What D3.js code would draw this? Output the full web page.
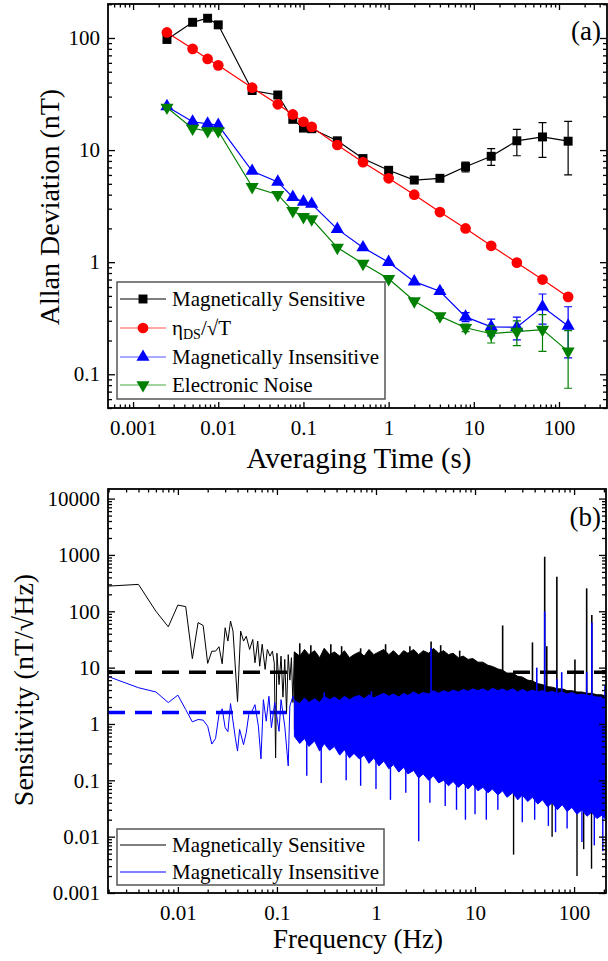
<!DOCTYPE html>
<html>
<head>
<meta charset="utf-8">
<script src="https://cdn.jsdelivr.net/npm/d3@7"></script>
<style>
	body { margin: 0; background: #fff; }
	svg { display: block; }
	svg text { font-family: "Liberation Serif", "DejaVu Serif", "Times New Roman", serif; }
</style>
</head>
<body>
<svg id="chart"></svg>
<script>
let width = 608;
let height = 961;

// ---- panel (a): Allan deviation ----
const avgTime = [0.0025, 0.005, 0.0075, 0.01, 0.025, 0.05, 0.075, 0.1, 0.125, 0.25, 0.5, 1, 2, 4, 8, 16, 32, 64, 128];
const magSens = [97, 138, 150, 131, 34, 31, 18.8, 15.7, 15.5, 12.1, 8.4, 6.6, 5.4, 5.6, 7.1, 8.8, 12.1, 13.1, 12.0];
const magSensErr = [0, 0, 0, 0, 0, 0, 0, 0, 0, 0.5, 0.4, 0.3, 0.2, 0.3, 0.7, 1.5, 3.2, 4.5, 6.0];
const etaDS = [112, 80, 65, 57, 36, 25.6, 20.8, 17.9, 16.1, 11.1, 7.8, 5.6, 4.0, 2.8, 2.0, 1.4, 0.99, 0.70, 0.49];
const magIns = [24.5, 17.9, 17.1, 16.7, 6.5, 5.2, 3.8, 3.45, 3.3, 1.97, 1.35, 1.0, 0.67, 0.55, 0.325, 0.265, 0.263, 0.40, 0.27];
const magInsErr = [0, 0, 0, 0, 0, 0, 0, 0, 0, 0, 0, 0, 0, 0.02, 0.03, 0.045, 0.06, 0.12, 0.13];
const elecNoise = [24, 15.6, 14.8, 14.8, 4.7, 4.0, 2.87, 2.54, 2.42, 1.35, 0.97, 0.71, 0.45, 0.33, 0.26, 0.23, 0.24, 0.25, 0.16];
const elecNoiseErr = [0, 0, 0, 0, 0, 0, 0, 0, 0, 0, 0, 0, 0, 0.015, 0.02, 0.04, 0.06, 0.09, 0.085];

const xTicksA = [0.001, 0.01, 0.1, 1, 10, 100];
const xLabelsA = ["0.001", "0.01", "0.1", "1", "10", "100"];
const yTicksA = [0.1, 1, 10, 100];
const yLabelsA = ["0.1", "1", "10", "100"];

// ---- panel (b): sensitivity spectrum ----
// resolved low-frequency part
const sensFreq = [0.002, 0.004, 0.006, 0.008, 0.010, 0.012, 0.014, 0.016, 0.018, 0.020, 0.022, 0.024, 0.026, 0.028, 0.030, 0.032, 0.034, 0.036, 0.040, 0.043, 0.046, 0.049, 0.053, 0.057, 0.060, 0.064, 0.067, 0.071, 0.076, 0.080, 0.085, 0.090, 0.094, 0.097, 0.100, 0.105, 0.110, 0.115, 0.120, 0.125, 0.130, 0.135, 0.140, 0.145, 0.150];
const sensVal = [280, 300, 100, 53, 129, 121, 14.4, 63, 56, 11.9, 19.6, 19.6, 23.5, 11.7, 51, 29.6, 67, 44.5, 2.5, 44.5, 29.6, 36, 21, 31.6, 12.2, 29.6, 10.6, 26, 9.3, 21, 16, 19.6, 12, 0.25, 18, 5, 16, 3, 14, 1.6, 17, 6, 15, 2.4, 19];
const insFreq = [0.002, 0.004, 0.006, 0.008, 0.010, 0.012, 0.014, 0.016, 0.018, 0.020, 0.022, 0.024, 0.026, 0.028, 0.030, 0.032, 0.034, 0.036, 0.038, 0.040, 0.042, 0.046, 0.049, 0.052, 0.056, 0.060, 0.065, 0.069, 0.073, 0.078, 0.083, 0.088, 0.095, 0.105, 0.110, 0.120, 0.130, 0.135, 0.145, 0.150];
const insVal = [6.9, 4.4, 3.7, 2.4, 3.25, 1.8, 1.09, 1.2, 1.17, 0.91, 0.44, 0.55, 1.47, 1.86, 0.86, 0.73, 2.3, 1.12, 0.57, 0.33, 0.8, 0.43, 0.7, 1.47, 1.69, 2.2, 0.91, 0.24, 2.7, 1.12, 3.1, 0.86, 2.4, 0.74, 2.7, 0.91, 0.18, 2.07, 3.1, 2.6];

// dense part, read as ragged upper / lower edges
const bandFreq = [0.15, 0.17, 0.19, 0.21, 0.24, 0.27, 0.3, 0.34, 0.38, 0.43, 0.48, 0.54, 0.6, 0.68, 0.76, 0.85, 0.95, 1.07, 1.2, 1.35, 1.5, 1.7, 1.9, 2.1, 2.4, 2.7, 3, 3.4, 3.8, 4.3, 4.8, 5.4, 6, 6.8, 7.6, 8.5, 9.5, 10.7, 12, 13.5, 15, 17, 19, 21, 24, 27, 30, 34, 38, 43, 48, 54, 60, 68, 76, 85, 95, 107, 120, 135, 150, 170, 190, 210];
const sensUpper = [19, 16, 21, 17, 20, 15, 22, 17, 19, 16, 20, 15, 17, 19, 16, 21, 17, 19, 21, 17, 20, 16, 20, 18, 21, 17, 20, 18, 22, 18, 20, 17, 18, 15, 16, 14, 14.5, 12.5, 12.5, 11, 10.5, 9.5, 9, 8, 8, 7, 6.8, 6, 5.8, 5.2, 5, 4.6, 4.5, 4.2, 4.2, 3.9, 3.9, 3.7, 3.7, 3.5, 3.5, 3.3, 3.3, 3.1];
const insUpper = [2.6, 2.3, 2.9, 2.4, 2.8, 2.4, 3.1, 2.7, 3.0, 2.6, 3.1, 2.7, 3.0, 3.2, 2.8, 3.3, 2.9, 3.2, 3.5, 3.1, 3.4, 3.0, 3.5, 3.2, 3.7, 3.3, 3.6, 3.4, 3.9, 3.5, 3.9, 3.6, 4.0, 3.7, 4.1, 3.8, 4.2, 3.9, 4.2, 3.8, 4.3, 3.9, 4.2, 3.8, 4.2, 3.7, 4.1, 3.7, 4.0, 3.7, 3.9, 3.6, 3.8, 3.5, 3.7, 3.4, 3.6, 3.3, 3.4, 3.2, 3.2, 3.0, 3.0, 2.8];
const insLower = [0.6, 0.45, 0.55, 0.4, 0.5, 0.33, 0.45, 0.34, 0.4, 0.28, 0.35, 0.25, 0.3, 0.24, 0.28, 0.2, 0.25, 0.18, 0.22, 0.16, 0.19, 0.14, 0.17, 0.13, 0.15, 0.11, 0.13, 0.1, 0.12, 0.09, 0.1, 0.08, 0.095, 0.075, 0.09, 0.07, 0.085, 0.065, 0.075, 0.06, 0.07, 0.055, 0.065, 0.05, 0.06, 0.045, 0.055, 0.042, 0.05, 0.038, 0.045, 0.034, 0.04, 0.03, 0.037, 0.028, 0.033, 0.025, 0.03, 0.023, 0.027, 0.021, 0.024, 0.02];
const sensLowFreq = [0.15, 0.3, 1, 3, 10, 30, 100, 210];
const sensLowVal = [0.8, 0.6, 0.35, 0.2, 0.12, 0.08, 0.05, 0.04];

// single spikes sticking out of the dense part
const sensPeakFreq = [0.17, 0.22, 0.35, 0.45, 0.7, 1.25, 2.2, 3.6, 4.5, 7, 19, 38, 50.5, 53, 67, 102, 134, 151];
const sensPeakVal = [27, 25, 26, 24, 22, 26, 24, 29, 25, 20, 56, 28, 930, 24, 410, 14, 255, 86];
const sensDipFreq = [24.5, 60, 107, 125, 150];
const sensDipVal = [0.0048, 0.01, 0.002, 0.006, 0.0027];
const insPeakFreq = [0.3, 0.9, 3.6, 42, 50.5, 67, 75, 134, 151, 205];
const insPeakVal = [3.6, 3.8, 22.6, 10, 100, 6.2, 8.3, 8.3, 63, 4.8];
const insDipFreq = [0.2, 0.28, 0.5, 0.7, 1.0, 1.4, 2.0, 2.7, 3.5, 5, 6.5, 8, 10, 13, 17, 30, 40, 55, 65, 85, 120, 160, 195];
const insDipVal = [0.12, 0.09, 0.1, 0.08, 0.07, 0.045, 0.06, 0.0083, 0.04, 0.035, 0.03, 0.02, 0.025, 0.02, 0.03, 0.018, 0.02, 0.0155, 0.012, 0.014, 0.008, 0.007, 0.0055];

const sensLevel = 8.3;
const insLevel = 1.6;

const xTicksB = [0.01, 0.1, 1, 10, 100];
const xLabelsB = ["0.01", "0.1", "1", "10", "100"];
const yTicksB = [0.001, 0.01, 0.1, 1, 10, 100, 1000, 10000];
const yLabelsB = ["0.001", "0.01", "0.1", "1", "10", "100", "1000", "10000"];

function minorTicks(domain) {
	var out = [];
	var lo = Math.floor(Math.log10(domain[0]));
	var hi = Math.ceil(Math.log10(domain[1]));
	for (var k = lo; k <= hi; k++) {
		for (var m = 2; m <= 9; m++) {
			var v = m * Math.pow(10, k);
			if (v >= domain[0] && v <= domain[1]) out.push(v);
		}
	}
	return out;
}

function drawFrame(g, x, y, xt, xl, yt, yl, xPad) {
	var x0 = x.range()[0], x1 = x.range()[1];
	var y0 = y.range()[0], y1 = y.range()[1];

	// bottom with labels, top without
	g.append("g").attr("transform", `translate(0,${y0})`)
		.call(d3.axisBottom(x).tickValues(xt).tickSize(-6).tickPadding(xPad).tickFormat((d, i) => xl[i]));
	g.append("g").attr("transform", `translate(0,${y0})`)
		.call(d3.axisBottom(x).tickValues(minorTicks(x.domain())).tickSize(-3.5).tickFormat(""));
	g.append("g").attr("transform", `translate(0,${y1})`)
		.call(d3.axisTop(x).tickValues(xt).tickSize(-6).tickFormat(""));
	g.append("g").attr("transform", `translate(0,${y1})`)
		.call(d3.axisTop(x).tickValues(minorTicks(x.domain())).tickSize(-3.5).tickFormat(""));

	g.append("g").attr("transform", `translate(${x0},0)`)
		.call(d3.axisLeft(y).tickValues(yt).tickSize(-7).tickPadding(8).tickFormat((d, i) => yl[i]));
	g.append("g").attr("transform", `translate(${x0},0)`)
		.call(d3.axisLeft(y).tickValues(minorTicks(y.domain())).tickSize(-4).tickFormat(""));
	g.append("g").attr("transform", `translate(${x1},0)`)
		.call(d3.axisRight(y).tickValues(yt).tickSize(-7).tickFormat(""));
	g.append("g").attr("transform", `translate(${x1},0)`)
		.call(d3.axisRight(y).tickValues(minorTicks(y.domain())).tickSize(-4).tickFormat(""));

	g.selectAll(".domain").remove();
	g.selectAll(".tick line").attr("stroke", "#000").attr("stroke-width", 1.3);
	g.selectAll(".tick text")
		.style("font-family", "'Liberation Serif', 'DejaVu Serif', serif")
		.attr("font-size", 21).attr("fill", "#000");

	g.append("rect")
		.attr("x", x0).attr("y", y1)
		.attr("width", x1 - x0).attr("height", y0 - y1)
		.attr("fill", "none").attr("stroke", "#000").attr("stroke-width", 1.8);
}

function draw() {
	const svg = d3.select("#chart");
	svg.selectAll("*").remove();
	svg.attr("width", width).attr("height", height);

	svg.append("rect").attr("width", width).attr("height", height).attr("fill", "white");

	// ================= panel (a) =================
	const xA = d3.scaleLog().domain([0.000508, 366]).range([108, 607]);
	const yA = d3.scaleLog().domain([0.05, 201]).range([408, 4]);
	const gA = svg.append("g");

	const seriesA = [
		{ name: "Magnetically Sensitive", vals: magSens, err: magSensErr, color: "#000000", legColor: "#000000", sym: d3.symbolSquare, size: 80, rot: 0 },
		{ name: "eta", vals: etaDS, err: null, color: "#ff0000", legColor: "#ff5555", sym: d3.symbolCircle, size: 90, rot: 0 },
		{ name: "Magnetically Insensitive", vals: magIns, err: magInsErr, color: "#0000ff", legColor: "#5555ff", sym: d3.symbolTriangle, size: 75, rot: 0 },
		{ name: "Electronic Noise", vals: elecNoise, err: elecNoiseErr, color: "#008000", legColor: "#44aa44", sym: d3.symbolTriangle, size: 75, rot: 180 },
	];

	const lineA = d3.line().x((d) => xA(d[0])).y((d) => yA(d[1]));

	seriesA.forEach((s) => {
		var pts = avgTime.map((t, i) => [t, s.vals[i], s.err ? s.err[i] : 0]);
		var g = gA.append("g");
		g.append("path")
			.attr("d", lineA(pts))
			.attr("fill", "none")
			.attr("stroke", s.color)
			.attr("stroke-width", 1.2);
		g.selectAll("path.err")
			.data(pts.filter((d) => d[2] > 0))
			.enter()
			.append("path")
			.attr("d", (d) => {
				var cx = xA(d[0]);
				var ya = yA(d[1] + d[2]);
				var yb = yA(d[1] - d[2]);
				return `M${cx},${ya}V${yb}M${cx - 4},${ya}H${cx + 4}M${cx - 4},${yb}H${cx + 4}`;
			})
			.attr("fill", "none")
			.attr("stroke", s.color)
			.attr("stroke-width", 1.2);
		g.selectAll("path.mk")
			.data(pts)
			.enter()
			.append("path")
			.attr("d", d3.symbol().type(s.sym).size(s.size))
			.attr("transform", (d) => `translate(${xA(d[0])},${yA(d[1])}) rotate(${s.rot})`)
			.attr("fill", s.color);
	});

	drawFrame(gA, xA, yA, xTicksA, xLabelsA, yTicksA, yLabelsA, 12);

	// legend (a)
	const legA = gA.append("g");
	legA.append("rect")
		.attr("x", 117).attr("y", 282).attr("width", 268).attr("height", 117)
		.attr("fill", "white").attr("stroke", "#555").attr("stroke-width", 1.5);
	const legYA = [299, 328, 357, 385];
	seriesA.forEach((s, i) => {
		var ly = legYA[i];
		legA.append("line")
			.attr("x1", 120).attr("x2", 166).attr("y1", ly).attr("y2", ly)
			.attr("stroke", s.legColor).attr("stroke-width", 1.2);
		legA.append("path")
			.attr("d", d3.symbol().type(s.sym).size(s.size))
			.attr("transform", `translate(143,${ly}) rotate(${s.rot})`)
			.attr("fill", s.color);
		var t = legA.append("text")
			.attr("x", 172).attr("y", ly + 7)
			.attr("font-size", 21);
		if (s.name === "eta") {
			t.append("tspan").text("\u03b7");
			t.append("tspan").attr("font-size", 14).attr("dy", 4).text("DS");
			t.append("tspan").attr("dy", -4).text("/\u221aT");
		} else {
			t.text(s.name);
		}
	});

	gA.append("text")
		.attr("x", 601).attr("y", 40)
		.attr("text-anchor", "end")
		.attr("font-size", 27)
		.text("(a)");
	gA.append("text")
		.attr("transform", "translate(59,207) rotate(-90)")
		.attr("text-anchor", "middle")
		.attr("font-size", 28)
		.text("Allan Deviation (nT)");
	gA.append("text")
		.attr("x", 359).attr("y", 468)
		.attr("text-anchor", "middle")
		.attr("font-size", 29)
		.text("Averaging Time (s)");

	// ================= panel (b) =================
	const xB = d3.scaleLog().domain([0.00197, 210]).range([108, 606]);
	const yB = d3.scaleLog().domain([0.001, 14800]).range([893, 489]);
	const gB = svg.append("g");

	svg.append("clipPath").attr("id", "clipB")
		.append("rect").attr("x", 108).attr("y", 489).attr("width", 498).attr("height", 404);
	const plotB = gB.append("g").attr("clip-path", "url(#clipB)");

	// reference levels
	[[sensLevel, "#000"], [insLevel, "#0000ff"]].forEach((d) => {
		plotB.append("line")
			.attr("x1", 108).attr("x2", 606)
			.attr("y1", yB(d[0])).attr("y2", yB(d[0]))
			.attr("stroke", d[1]).attr("stroke-width", 3.5)
			.attr("stroke-dasharray", "17,10");
	});

	const lineB = d3.line().x((d) => xB(d[0])).y((d) => yB(d[1]));

	function band(upF, upV, lowF, lowV) {
		var top = upF.map((f, i) => [f, upV[i]]);
		var bottom = lowF.map((f, i) => [f, lowV[i]]).reverse();
		return lineB(top.concat(bottom)) + "Z";
	}

	function spectrum(color, freq, vals, lowF, lowV, upV, peakF, peakV, peakBase, dipF, dipV) {
		var g = plotB.append("g");
		g.append("path")
			.attr("d", lineB(freq.map((f, i) => [f, vals[i]])))
			.attr("fill", "none").attr("stroke", color).attr("stroke-width", 1);
		g.append("path")
			.attr("d", band(bandFreq, upV, lowF, lowV))
			.attr("fill", color).attr("stroke", color).attr("stroke-width", 1);
		g.selectAll("line.pk")
			.data(peakF.map((f, i) => [f, peakV[i]]))
			.enter()
			.append("line")
			.attr("x1", (d) => xB(d[0])).attr("x2", (d) => xB(d[0]))
			.attr("y1", (d) => yB(d[1])).attr("y2", yB(peakBase))
			.attr("stroke", color).attr("stroke-width", 1.6);
		g.selectAll("line.dp")
			.data(dipF.map((f, i) => [f, dipV[i]]))
			.enter()
			.append("line")
			.attr("x1", (d) => xB(d[0])).attr("x2", (d) => xB(d[0]))
			.attr("y1", (d) => yB(d[1])).attr("y2", yB(1))
			.attr("stroke", color).attr("stroke-width", 1.4);
	}

	spectrum("#000000", sensFreq, sensVal, sensLowFreq, sensLowVal, sensUpper, sensPeakFreq, sensPeakVal, 1, sensDipFreq, sensDipVal);
	spectrum("#0000ff", insFreq, insVal, bandFreq, insLower, insUpper, insPeakFreq, insPeakVal, 0.5, insDipFreq, insDipVal);

	drawFrame(gB, xB, yB, xTicksB, xLabelsB, yTicksB, yLabelsB, 12);

	// legend (b)
	const legB = gB.append("g");
	legB.append("rect")
		.attr("x", 117).attr("y", 829).attr("width", 267).attr("height", 56)
		.attr("fill", "white").attr("stroke", "#555").attr("stroke-width", 1.5);
	[["Magnetically Sensitive", "#000", 845], ["Magnetically Insensitive", "#0000ff", 872]].forEach((d) => {
		legB.append("line")
			.attr("x1", 120).attr("x2", 166).attr("y1", d[2]).attr("y2", d[2])
			.attr("stroke", d[1]).attr("stroke-width", 1.2);
		legB.append("text")
			.attr("x", 172).attr("y", d[2] + 7)
			.attr("font-size", 21)
			.text(d[0]);
	});

	gB.append("text")
		.attr("x", 601).attr("y", 526)
		.attr("text-anchor", "end")
		.attr("font-size", 27)
		.text("(b)");
	gB.append("text")
		.attr("transform", "translate(33,690) rotate(-90)")
		.attr("text-anchor", "middle")
		.attr("font-size", 28)
		.text("Sensitivity (nT/\u221aHz)");
	gB.append("text")
		.attr("x", 358).attr("y", 948)
		.attr("text-anchor", "middle")
		.attr("font-size", 27)
		.text("Frequency (Hz)");
}

draw();
</script>
</body>
</html>
